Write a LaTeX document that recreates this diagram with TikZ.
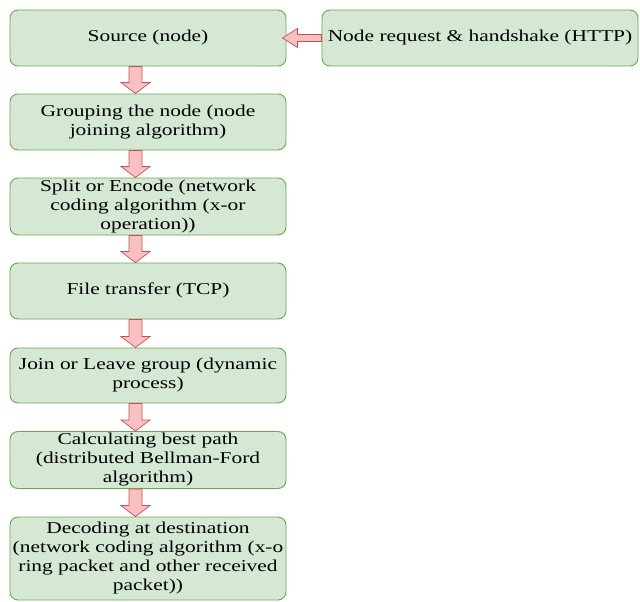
\documentclass[tikz,border=0pt]{standalone}
\usepackage{fontspec}
\usepackage{graphicx}
\setmainfont{Liberation Serif}
\usetikzlibrary{calc}
\definecolor{boxfill}{RGB}{213,232,212}
\definecolor{boxline}{RGB}{106,168,79}
\definecolor{arrfill}{RGB}{248,192,192}
\definecolor{arrline}{RGB}{200,80,80}
\newcommand{\sx}[1]{\scalebox{1.29}[1]{\begin{tabular}{@{}c@{}}#1\end{tabular}}}
\newcommand{\blockdown}[2]{%
  \filldraw[arrstyle] let \p1=(#1.south), \p2=(#2.north) in
    (\x1-19pt,\y1) -- (\x1-6pt,\y1) -- (\x1-6pt,\y2+11pt) -- (\x1+2pt,\y2+11pt)
    -- (\x1-12.5pt,\y2) -- (\x1-27pt,\y2+11pt) -- (\x1-19pt,\y2+11pt) -- cycle;}
\tikzset{
  flowbox/.style={draw=boxline, fill=boxfill, line width=0.9pt, rounded corners=8pt,
    inner sep=0pt, minimum width=276pt, align=center,
    font=\fontsize{16.6}{19}\selectfont},
  arrstyle/.style={draw=arrline, fill=arrfill, line width=0.7pt, line join=miter}
}
\begin{document}
\begin{tikzpicture}[x=1pt,y=-1pt]
\useasboundingbox (0,0) rectangle (640,602);
\node[flowbox, minimum height=56pt] (b1) at (148,38) {\sx{Source (node)}};
\node[flowbox, minimum height=56pt, minimum width=316pt] (r) at (480,38) {\sx{Node request \& handshake (HTTP)}};
\node[flowbox, minimum height=56pt] (b2) at (148,122) {\sx{Grouping the node (node\\joining algorithm)}};
\node[flowbox, minimum height=57pt] (b3) at (148,206.5) {\sx{Split or Encode (network\\coding algorithm (x-or\\operation))}};
\node[flowbox, minimum height=56pt] (b4) at (148,291) {\sx{File transfer (TCP)}};
\node[flowbox, minimum height=55pt] (b5) at (148,375.5) {\sx{Join or Leave group (dynamic\\process)}};
\node[flowbox, minimum height=56pt] (b6) at (148,460) {\sx{Calculating best path\\(distributed Bellman-Ford\\algorithm)}};
\node[flowbox, minimum height=83pt] (b7) at (148,558.5) {\sx{Decoding at destination\\(network coding algorithm (x-o\\ring packet and other received\\packet))}};
\blockdown{b1}{b2}
\blockdown{b2}{b3}
\blockdown{b3}{b4}
\blockdown{b4}{b5}
\blockdown{b5}{b6}
\blockdown{b6}{b7}
\filldraw[arrstyle] let \p1=(r.west), \p2=(b1.east) in
  (\x1,\y1+3.5pt) -- (\x2+11pt,\y1+3.5pt) -- (\x2+11pt,\y1+9.5pt) -- (\x2-4pt,\y1)
  -- (\x2+11pt,\y1-9.5pt) -- (\x2+11pt,\y1-3.5pt) -- (\x1,\y1-3.5pt) -- cycle;
\end{tikzpicture}
\end{document}
